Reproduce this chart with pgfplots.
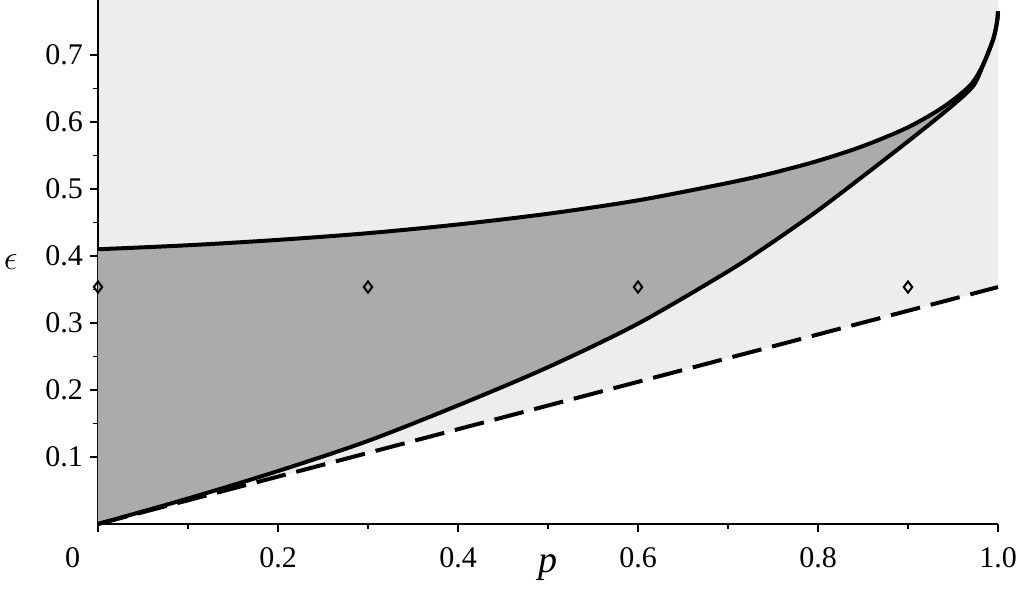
\documentclass[border=0pt]{standalone}
\usepackage{pgfplots}
\pgfplotsset{compat=1.18}
\usepackage{pgfplotstable}
\usepgfplotslibrary{fillbetween}
\usepackage{fontspec}
\setmainfont{Liberation Serif}

\definecolor{shadelight}{HTML}{EDEDED}
\definecolor{shadedark}{HTML}{ABABAB}

% upper boundary
\pgfplotstableread{
p e
0.000 0.410
0.100 0.416
0.200 0.424
0.300 0.434
0.400 0.447
0.500 0.463
0.600 0.483
0.700 0.509
0.750 0.524
0.800 0.542
0.850 0.564
0.900 0.592
0.940 0.623
0.970 0.656
0.985 0.690
0.995 0.725
0.999 0.750
1.000 0.765
}\upperdata

% lower boundary
\pgfplotstableread{
p e
0.000 0.000
0.100 0.038
0.200 0.079
0.300 0.124
0.400 0.177
0.500 0.234
0.600 0.299
0.700 0.377
0.750 0.421
0.800 0.468
0.850 0.519
0.900 0.571
0.940 0.614
0.965 0.643
0.975 0.659
0.985 0.690
0.995 0.725
0.999 0.750
1.000 0.765
}\lowerdata

\begin{document}
\begin{tikzpicture}
\begin{axis}[
  scale only axis,
  width=450pt, height=262pt,
  xmin=0, xmax=1, ymin=0, ymax=0.782,
  axis lines=left,
  axis line style={-, line width=1pt},
  tick style={black, line width=0.8pt},
  tick align=outside,
  major tick length=4pt,
  minor tick length=2.5pt,
  xtick={0,0.2,0.4,0.6,0.8,1.0},
  xticklabels={\llap{0\hspace{9pt}},0.2,0.4,0.6,0.8,1.0},
  minor x tick num=1,
  ytick={0.1,0.2,0.3,0.4,0.5,0.6,0.7},
  yticklabels={0.1,0.2,0.3,0.4,0.5,0.6,0.7},
  minor y tick num=1,
  tick label style={font=\fontsize{15}{17}\selectfont},
  xticklabel style={yshift=-4pt},
  xlabel={\textit{p}},
  ylabel={$\epsilon$},
  label style={font=\fontsize{19}{21}\selectfont},
  xlabel style={at={(axis description cs:0.5,0)}, anchor=center, yshift=-22pt},
  ylabel style={rotate=-90, at={(axis description cs:-0.097,0.50)}, anchor=center},
  clip=false,
]

% light region above the dashed line
\addplot[draw=none, fill=shadelight, on layer=axis background] coordinates {(0,0) (1,0.3536) (1,0.782) (0,0.782) (0,0)};

\addplot[draw=none, name path=up, smooth] table[x=p, y=e] {\upperdata};
\addplot[draw=none, name path=lo, smooth] table[x=p, y=e] {\lowerdata};
\addplot[fill=shadedark, draw=none] fill between[of=up and lo];

% dashed line
\addplot[black, line width=2pt, dash pattern=on 15pt off 5.5pt] coordinates {(0,0) (1,0.3536)};

% boundaries
\addplot[black, line width=2pt, smooth] table[x=p, y=e] {\upperdata};
\addplot[black, line width=2pt, smooth] table[x=p, y=e] {\lowerdata};

% sample points
\addplot[only marks, mark=diamond, mark size=2.8pt, mark options={black, line width=1pt}] coordinates {(0,0.3536) (0.3,0.3536) (0.6,0.3536) (0.9,0.3536)};

\end{axis}
\pgfresetboundingbox
\path[use as bounding box] (-49pt,-43.5pt) rectangle (460.5pt,262pt);
\end{tikzpicture}
\end{document}
